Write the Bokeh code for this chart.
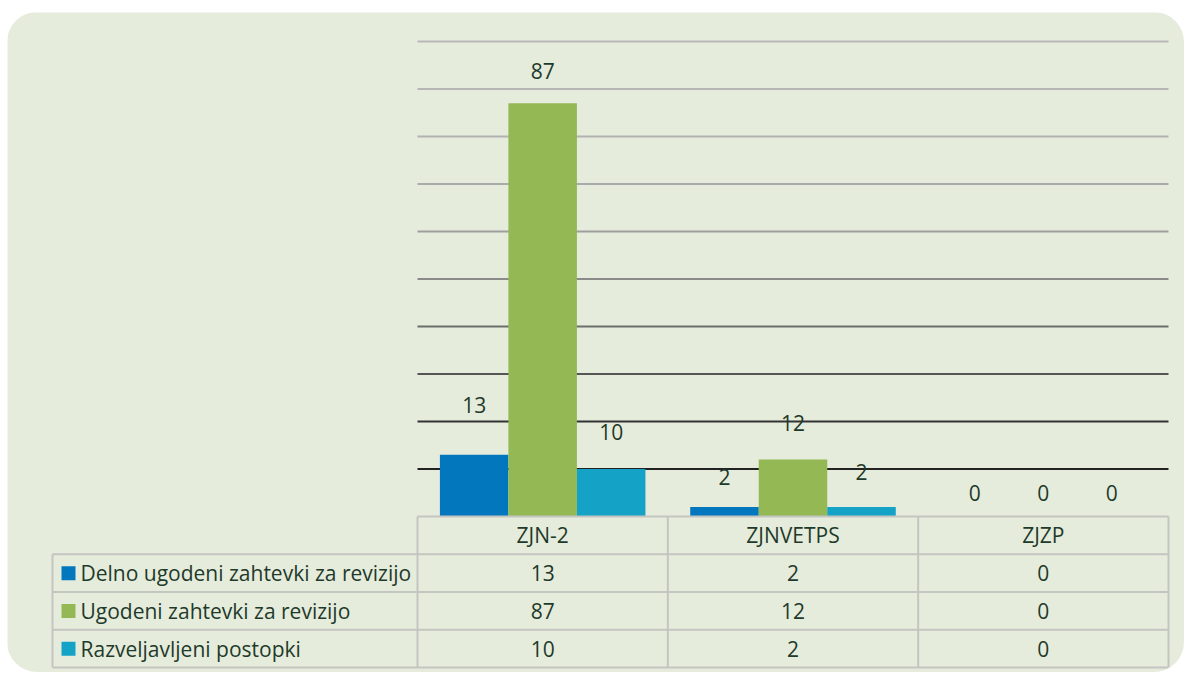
from bokeh.plotting import figure
from bokeh.models import Range1d, ColumnDataSource
from bokeh.core.properties import value
from bokeh.embed import file_html
from bokeh.resources import INLINE

# ---- data ----
categories = ["ZJN-2", "ZJNVETPS", "ZJZP"]
series_names = ["Delno ugodeni zahtevki za revizijo", "Ugodeni zahtevki za revizijo", "Razveljavljeni postopki"]
delno = [13, 2, 0]
ugodeni = [87, 12, 0]
razveljavljeni = [10, 2, 0]
grid_values = [10, 20, 30, 40, 50, 60, 70, 80, 90, 100]

# ---- styles ----
series_colors = ["#0277bd", "#94b954", "#14a3c6"]
grid_colors = ["#222222", "#333333", "#555555", "#6b6e6b", "#8a8a8a", "#9e9e9e", "#aaaaaa", "#b2b2b2", "#b6b6b6", "#b8b8b8"]
label_offsets = [[-50, -30, -24], [-32, -37, -24], [-37, -35, -24]]
BG = "#e6ecdc"
TXT = "#1e3a2a"
TABLE_LINE = "#c3c5c1"
FONT = value("Open Sans")
FS = "21px"

# ---- layout (pixels inside the figure) ----
W, H = 1177, 660
X0, X1 = 410, 1161
Y_TOP, Y_ZERO = 29, 504
YMAX = 100
GW = (X1 - X0) / len(categories)
UNIT = (Y_ZERO - Y_TOP) / YMAX


def gx(px):
    return (px - X0) / GW


def gy(py):
    return (Y_ZERO - py) / UNIT


p = figure(width=W, height=H, output_backend="svg", toolbar_location=None,
           x_range=Range1d(gx(0), gx(W)), y_range=Range1d(gy(H), gy(0)),
           min_border=0, min_border_left=0, min_border_right=0,
           min_border_top=0, min_border_bottom=0,
           background_fill_color=BG, border_fill_color=BG, outline_line_color=None,
           stylesheets=[":host { border-radius: 30px; overflow: hidden; margin-left: 7px; margin-top: 12px; }"])
p.axis.visible = False
p.grid.visible = False

n = len(categories)

# grid lines
p.segment(x0=[0] * len(grid_values), x1=[n] * len(grid_values), y0=grid_values, y1=grid_values,
          line_color=grid_colors, line_width=2)

# bars
series = [delno, ugodeni, razveljavljeni]
bw = 0.2737
offsets = [-bw, 0, bw]
for s, vals in enumerate(series):
    xs = [i + 0.5 + offsets[s] for i in range(n)]
    src = ColumnDataSource(dict(x=xs, top=vals, lab=[str(v) for v in vals],
                                dy=label_offsets[s]))
    p.vbar(x="x", top="top", bottom=0, width=bw, source=src,
           fill_color=series_colors[s], line_color=None)
    p.text(x="x", y="top", text="lab", source=src, y_offset="dy",
           text_align="center", text_baseline="middle",
           text_font=FONT, text_font_size=FS, text_color=TXT)

# ---- data table ----
row_h = 37.75
rows_py = [Y_ZERO + k * row_h for k in range(len(series) + 2)]
table_left_px = 45

# horizontal lines
hx0, hx1, hy = [0], [n], [gy(rows_py[0])]
for k in range(1, len(rows_py)):
    hx0.append(gx(table_left_px)); hx1.append(n); hy.append(gy(rows_py[k]))
p.segment(x0=hx0, x1=hx1, y0=hy, y1=hy, line_color=TABLE_LINE, line_width=2)

# vertical lines
vx = list(range(n + 1)) + [gx(table_left_px)]
vy0 = [gy(rows_py[0])] * (n + 1) + [gy(rows_py[1])]
vy1 = [gy(rows_py[-1])] * (n + 2)
p.segment(x0=vx, x1=vx, y0=vy0, y1=vy1, line_color=TABLE_LINE, line_width=2)

# header
p.text(x=[i + 0.5 for i in range(n)], y=[gy(rows_py[0] + row_h / 2)] * n, text=categories,
       text_align="center", text_baseline="middle",
       text_font=FONT, text_font_size=FS, text_color=TXT)

# value rows + legend
for s, vals in enumerate(series):
    yc = gy(rows_py[s + 1] + row_h / 2)
    p.text(x=[i + 0.5 for i in range(n)], y=[yc] * n, text=[str(v) for v in vals],
           text_align="center", text_baseline="middle",
           text_font=FONT, text_font_size=FS, text_color=TXT)
    p.scatter(x=[gx(61)], y=[yc], marker="square", size=14,
              fill_color=series_colors[s], line_color=None)
    p.text(x=[gx(73)], y=[yc], text=[series_names[s]],
           text_align="left", text_baseline="middle",
           text_font=FONT, text_font_size=FS, text_color=TXT)

open("out.html", "w").write(file_html(p, INLINE))
